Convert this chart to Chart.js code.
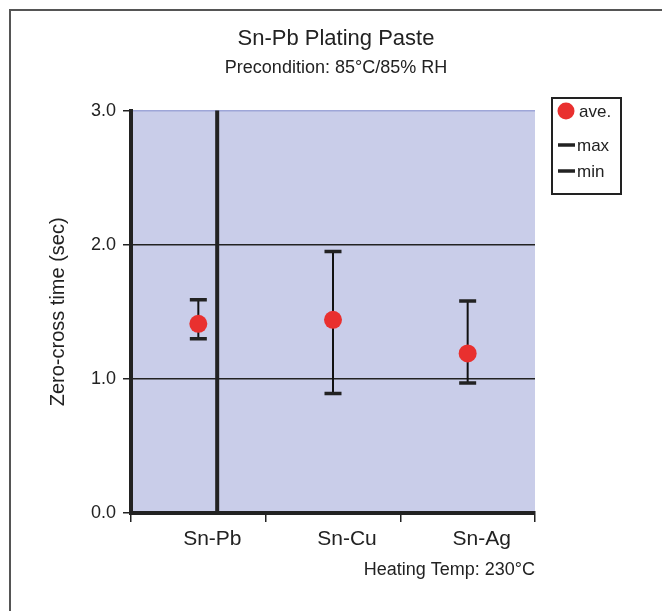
<!DOCTYPE html>
<html>
<head>
<meta charset="utf-8">
<script src="https://cdn.jsdelivr.net/npm/chart.js@4/dist/chart.umd.min.js"></script>
<style>
  html, body { margin: 0; padding: 0; background: #fff; }
  #wrap { width: 662px; height: 611px; }
</style>
</head>
<body>
<div id="wrap"><canvas id="myChart" width="662" height="611"></canvas></div>
<script>
var categories = ["Sn-Pb", "Sn-Cu", "Sn-Ag"];
var aveVals = [1.41, 1.44, 1.19];
var maxVals = [1.59, 1.95, 1.58];
var minVals = [1.30, 0.89, 0.97];
var yTicks = [0, 1, 2, 3];
var dividerAt = 0.14; // thick vertical line, in category units

var FONT = "'Liberation Sans', Arial, sans-serif";
var INK = '#222';
var PLOT_BG = '#c9cde9';
var PLOT_EDGE = '#9ea6d8';
var RED = '#e9302f';

var plotBits = {
    id: 'plotBits',
    beforeDraw: function(chart) {
        var a = chart.chartArea, c = chart.ctx;
        c.save();
        c.fillStyle = PLOT_BG;
        c.fillRect(a.left, a.top, a.right - a.left, a.bottom - a.top);
        c.restore();
    },
    beforeDatasetsDraw: function(chart) {
        var c = chart.ctx, a = chart.chartArea;
        var x = chart.scales.x.getPixelForValue(dividerAt);
        c.save();
        c.strokeStyle = INK;
        c.lineWidth = 4;
        c.beginPath();
        c.moveTo(x, a.top);
        c.lineTo(x, a.bottom);
        c.stroke();
        // error bar stems
        var hi = chart.getDatasetMeta(1).data;
        var lo = chart.getDatasetMeta(2).data;
        c.lineWidth = 2;
        c.strokeStyle = '#111';
        for (var i = 0; i < hi.length; i++) {
            c.beginPath();
            c.moveTo(hi[i].x, hi[i].y);
            c.lineTo(lo[i].x, lo[i].y);
            c.stroke();
        }
        c.restore();
    },
    afterDraw: function(chart) {
        var c = chart.ctx, a = chart.chartArea;
        c.save();
        // frame (top + left)
        c.strokeStyle = '#555';
        c.lineWidth = 2;
        c.beginPath();
        c.moveTo(662, 10);
        c.lineTo(10, 10);
        c.lineTo(10, 611);
        c.stroke();

        // legend box
        var bx = a.right + 17, by = 98, bw = 69, bh = 96;
        c.strokeStyle = INK;
        c.lineWidth = 2;
        c.strokeRect(bx, by, bw, bh);
        var ds = chart.data.datasets;
        var rows = [111, 145, 171];
        c.font = '17px ' + FONT;
        c.fillStyle = INK;
        c.textBaseline = 'middle';
        for (var i = 0; i < ds.length; i++) {
            var y = rows[i];
            if (ds[i].pointStyle === 'line') {
                c.strokeStyle = INK;
                c.lineWidth = 3.5;
                c.beginPath();
                c.moveTo(bx + 6, y);
                c.lineTo(bx + 23, y);
                c.stroke();
                c.fillStyle = INK;
                c.fillText(ds[i].label, bx + 25, y + 1);
            } else {
                c.fillStyle = ds[i].backgroundColor;
                c.beginPath();
                c.arc(bx + 14, y, 8.5, 0, Math.PI * 2);
                c.fill();
                c.fillStyle = INK;
                c.fillText(ds[i].label, bx + 27, y + 1);
            }
        }
        c.restore();
    }
};

var ctx = document.getElementById('myChart').getContext('2d');
var chart = new Chart(ctx, {
    type: 'line',
    data: {
        labels: categories,
        datasets: [{
            label: 'ave.',
            data: aveVals,
            showLine: false,
            pointRadius: 9,
            pointHoverRadius: 9,
            pointBorderWidth: 0,
            backgroundColor: RED,
            borderColor: RED,
            order: 0
        }, {
            label: 'max',
            data: maxVals,
            showLine: false,
            pointStyle: 'line',
            pointRadius: 8.5,
            pointBorderWidth: 3.5,
            borderColor: INK,
            backgroundColor: INK,
            order: 1
        }, {
            label: 'min',
            data: minVals,
            showLine: false,
            pointStyle: 'line',
            pointRadius: 8.5,
            pointBorderWidth: 3.5,
            borderColor: INK,
            backgroundColor: INK,
            order: 1
        }]
    },
    options: {
        responsive: false,
        animation: false,
        layout: { padding: { left: 10, right: 0, top: 0, bottom: 0 } },
        plugins: {
            legend: { display: false },
            tooltip: { enabled: false },
            title: {
                display: true,
                text: 'Sn-Pb Plating Paste',
                color: INK,
                font: { family: FONT, size: 22, weight: 'normal' },
                padding: { top: 26, bottom: 3 }
            },
            subtitle: {
                display: true,
                text: 'Precondition: 85°C/85% RH',
                color: INK,
                font: { family: FONT, size: 18, weight: 'normal' },
                padding: { top: 2, bottom: 31.6 }
            }
        },
        scales: {
            x: {
                type: 'category',
                offset: true,
                afterFit: function(s) { s.height = 98; },
                grid: {
                    offset: true,
                    drawOnChartArea: true,
                    color: function(c) { return c.index === categories.length ? PLOT_EDGE : 'rgba(0,0,0,0)'; },
                    lineWidth: 1.5,
                    tickColor: INK,
                    tickWidth: 1.5,
                    tickLength: 9
                },
                border: { display: true, color: INK, width: 4 },
                ticks: {
                    color: INK,
                    font: { family: FONT, size: 21 },
                    padding: 5,
                    labelOffset: 14
                },
                title: {
                    display: true,
                    text: 'Heating Temp: 230°C',
                    align: 'end',
                    color: INK,
                    font: { family: FONT, size: 18 },
                    padding: { top: 8, bottom: 30 }
                }
            },
            y: {
                min: 0,
                max: 3,
                afterFit: function(s) { s.width = 121; },
                afterBuildTicks: function(s) { s.ticks = yTicks.map(function(v) { return { value: v }; }); },
                grid: {
                    color: function(c) {
                        var v = c.tick.value;
                        if (v === 3) return PLOT_EDGE;
                        return (v === 1 || v === 2) ? INK : 'rgba(0,0,0,0)';
                    },
                    lineWidth: 1.5,
                    tickColor: INK,
                    tickWidth: 1.5,
                    tickLength: 8
                },
                border: { display: true, color: INK, width: 4 },
                ticks: {
                    color: INK,
                    font: { family: FONT, size: 18 },
                    padding: 7,
                    callback: function(v) { return Number(v).toFixed(1); }
                },
                title: {
                    display: true,
                    text: 'Zero-cross time (sec)',
                    color: INK,
                    font: { family: FONT, size: 20 },
                    padding: { top: 36, bottom: 0 }
                }
            },
            yR: {
                position: 'right',
                display: true,
                afterFit: function(s) { s.width = 127; },
                grid: { display: false },
                border: { display: false },
                ticks: { display: false }
            }
        }
    },
    plugins: [plotBits]
});
</script>
</body>
</html>
